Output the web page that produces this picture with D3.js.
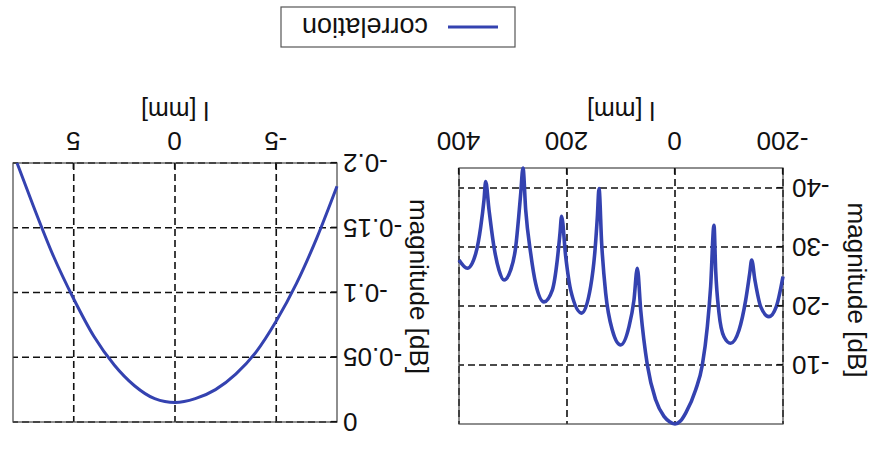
<!DOCTYPE html>
<html>
<head>
<meta charset="utf-8">
<script src="https://cdn.jsdelivr.net/npm/d3@7"></script>
<style>
  body { margin: 0; background: #fff; }
  svg { display: block; }
</style>
</head>
<body>
<script>
// Correlation magnitude, wide range (l in mm, magnitude in dB)
const wideL = [-200, -187.6, -174, -158.7, -148, -142, -138.3, -130.9, -118.5, -103, -90.7, -81.5,
  -75.3, -72.2, -66, -59.9, -50.6, -38.3, -20, -10, 0, 10, 20.4, 35.8, 51.2, 63.5, 69.8, 76, 85.2,
  100.6, 116, 128.4, 135.8, 140.7, 143.8, 148.1, 156.2, 172.8, 193.2, 202.4, 210, 213, 218, 227.2,
  242.6, 258, 267.2, 276.5, 281.5, 285.7, 288.9, 295, 304.3, 316.7, 326, 335.2, 344.4, 350.6,
  353.7, 359.8, 369, 384.6, 400];
const wideDb = [-25, -19.9, -18.2, -19.9, -24.4, -27.8, -25.5, -21, -15.9, -13.7, -14.8, -18.8,
  -26.1, -33.7, -23.3, -16.5, -10, -5.8, -1.9, -0.5, 0, -0.4, -1.3, -4.1, -10, -19.3, -26.4, -21, -16.5,
  -13.4, -15.9, -22.2, -30.6, -39.9, -35.1, -29.5, -23.3, -18.8, -22.7, -28.4, -35.2, -32.3, -27.8, -22.7,
  -20.7, -23.8, -28.9, -36.3, -43.4, -39.1, -35.7, -30, -26.1, -24.4, -26.1, -30, -36.3, -41.1,
  -38, -33.4, -28.9, -26.4, -27.8];

// Correlation magnitude, close to the peak
const nearL = [-8, -7, -6, -5, -4, -3, -2, -1, 0, 1, 2, 3, 4, 5, 6, 7, 7.8];
const nearDb = [-0.182, -0.142, -0.107, -0.078, -0.054, -0.037, -0.025, -0.018, -0.015,
  -0.018, -0.028, -0.044, -0.066, -0.095, -0.128, -0.167, -0.2];

const wideTicksX = [-200, 0, 200, 400];
const wideTicksY = [-40, -30, -20, -10];
const nearTicksX = [-5, 0, 5];
const nearTicksY = [0, -0.05, -0.1, -0.15, -0.2];

const xLabel = 'l [mm]';
const yLabel = 'magnitude [dB]';
const seriesName = 'correlation';

const width = 873;
const height = 450;
const blue = '#3442b0';
const font = '"Liberation Sans", Arial, sans-serif';

const svg = d3.select('body').append('svg')
  .attr('width', width)
  .attr('height', height);

svg.append('rect').attr('width', width).attr('height', height).attr('fill', '#fff');

// the page is photographed upside down, so draw upright and turn it round
const root = svg.append('g')
  .attr('transform', `rotate(180 ${width / 2} ${height / 2})`);

function panel(p) {
  const g = root.append('g');
  const [x0, x1] = p.x.range();
  const [y0, y1] = p.y.range();

  // dashed grid
  g.append('g').selectAll('line').data(p.xTicks).join('line')
    .attr('x1', d => p.x(d)).attr('x2', d => p.x(d))
    .attr('y1', y0).attr('y2', y1)
    .attr('stroke', '#111').attr('stroke-width', 1.6).attr('stroke-dasharray', '7 4');
  g.append('g').selectAll('line').data(p.yTicks).join('line')
    .attr('x1', x0).attr('x2', x1)
    .attr('y1', d => p.y(d)).attr('y2', d => p.y(d))
    .attr('stroke', '#111').attr('stroke-width', 1.6).attr('stroke-dasharray', '7 4');

  // frame
  g.append('rect')
    .attr('x', x0).attr('y', y1)
    .attr('width', x1 - x0).attr('height', y0 - y1)
    .attr('fill', 'none').attr('stroke', '#444').attr('stroke-width', 1.2);

  // curve
  const line = d3.line()
    .x((d, i) => p.x(p.lx[i]))
    .y(d => p.y(d))
    .curve(d3.curveMonotoneX);
  g.append('path')
    .attr('d', line(p.vals))
    .attr('fill', 'none')
    .attr('stroke', blue)
    .attr('stroke-width', p.lw)
    .attr('stroke-linejoin', 'round');

  // axes
  const ax = g.append('g')
    .attr('transform', `translate(0,${y0})`)
    .call(d3.axisBottom(p.x).tickValues(p.xTicks).tickSize(-6).tickPadding(p.xpad).tickFormat(String));
  const ay = g.append('g')
    .attr('transform', `translate(${x0},0)`)
    .call(d3.axisLeft(p.y).tickValues(p.yTicks).tickSize(-6).tickPadding(p.ypad).tickFormat(String));
  [ax, ay].forEach(a => {
    a.select('.domain').remove();
    a.selectAll('line').attr('stroke', '#111').attr('stroke-width', 1.2);
    a.selectAll('text')
      .attr('fill', '#111')
      .attr('font-family', font)
      .attr('font-size', 26);
  });

  g.append('text')
    .attr('x', (x0 + x1) / 2).attr('y', p.xlabY)
    .attr('text-anchor', 'middle')
    .attr('font-family', font).attr('font-size', 25).attr('fill', '#111')
    .text(xLabel);
  g.append('text')
    .attr('transform', `translate(${p.ylabX},${(y0 + y1) / 2 + 6}) rotate(-90)`)
    .attr('text-anchor', 'middle')
    .attr('dy', '0.35em')
    .attr('font-family', font).attr('font-size', 26).attr('fill', '#111')
    .text(yLabel);
}

panel({
  x: d3.scaleLinear().domain([-200, 400]).range([90, 414]),
  y: d3.scaleLinear().domain([-43.4, 0]).range([282, 26]),
  lx: wideL, vals: wideDb,
  xTicks: wideTicksX, yTicks: wideTicksY,
  xpad: 18, ypad: 9, xlabY: 348, ylabX: 16, lw: 3.6
});

panel({
  x: d3.scaleLinear().domain([-8, 8]).range([536, 860]),
  y: d3.scaleLinear().domain([-0.2, 0]).range([287, 28]),
  lx: nearL, vals: nearDb,
  xTicks: nearTicksX, yTicks: nearTicksY,
  xpad: 13, ypad: 6, xlabY: 348, ylabX: 454, lw: 3
});

// legend
const lg = root.append('g');
lg.append('rect')
  .attr('x', 358).attr('y', 403).attr('width', 234).attr('height', 40)
  .attr('fill', '#fff').attr('stroke', '#555').attr('stroke-width', 1.2);
lg.append('line')
  .attr('x1', 375).attr('x2', 425).attr('y1', 423).attr('y2', 423)
  .attr('stroke', blue).attr('stroke-width', 3.2);
lg.append('text')
  .attr('x', 445).attr('y', 432)
  .attr('font-family', font).attr('font-size', 27).attr('fill', '#111')
  .text(seriesName);
</script>
</body>
</html>
